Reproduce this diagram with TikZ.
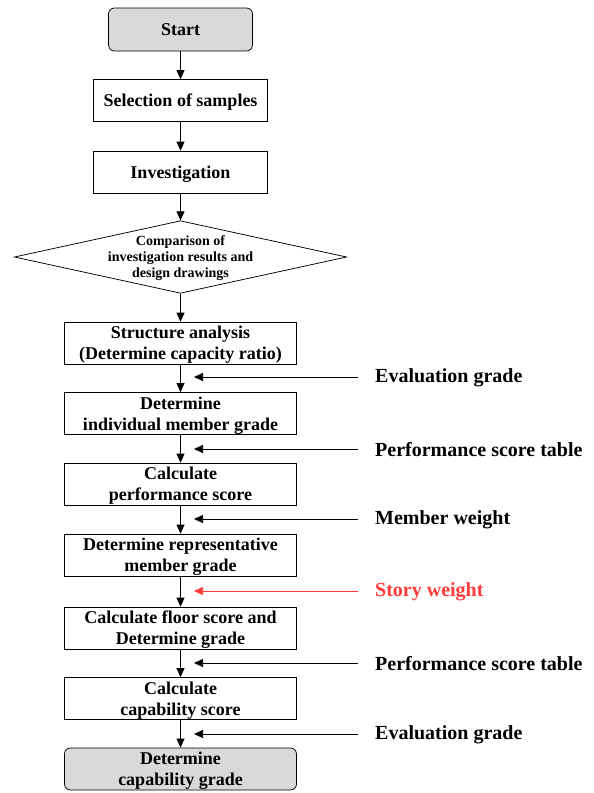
\documentclass[tikz,border=0pt]{standalone}
\usepackage{fontspec}
\setmainfont{Liberation Serif}
\usetikzlibrary{arrows.meta,shapes.geometric}
\definecolor{gray2}{HTML}{D9D9D9}
\definecolor{red2}{HTML}{FF3B3B}

\begin{document}
\begin{tikzpicture}[
      x=1pt, y=-1pt,
      >={Triangle[length=9pt,width=8pt]},
      box/.style={draw, line width=0.75pt, minimum width=232pt, minimum height=42pt,
        inner sep=0pt, text depth=0pt, align=center, font=\fontsize{18}{21}\selectfont\bfseries},
      term/.style={box, rounded corners=6pt, fill=gray2},
      dec/.style={draw, diamond, line width=0.75pt, aspect=4.58, inner xsep=0pt, inner ysep=-0.5pt,
        text depth=0pt, minimum width=330pt, minimum height=72pt, align=center,
        font=\fontsize{14}{16}\selectfont\bfseries},
      lbl/.style={anchor=west, inner sep=0pt, font=\fontsize{20}{22}\selectfont\bfseries},
      flow/.style={->, line width=0.75pt},
      feed/.style={->, line width=0.75pt, shorten <=17pt}
  ]
    \useasboundingbox (0,0) rectangle (594,793);
    % main column
    \node[term, minimum width=144pt, minimum height=43pt] (start) at (180.5,29.5) {Start};
    \node[box, minimum width=174pt] (sel) at (180.5,100.5) {Selection of samples};
    \node[box, minimum width=174pt] (inv) at (180.5,172) {Investigation};
    \node[dec] (cmp) at (180.5,257) {Comparison of\\investigation results and\\design drawings};
    \node[box] (sa) at (180.5,343) {Structure analysis\\(Determine capacity ratio)};
    \node[box] (ind) at (180.5,413.5) {Determine\\individual member grade};
    \node[box] (perf) at (180.5,484) {Calculate\\performance score};
    \node[box] (rep) at (180.5,555) {Determine representative\\member grade};
    \node[box] (flr) at (180.5,628) {Calculate floor score and\\Determine grade};
    \node[box] (cap) at (180.5,698.5) {Calculate\\capability score};
    \node[term] (grade) at (180.5,769) {Determine\\capability grade};
    \draw[flow] (start) -- (sel);
    \draw[flow] (sel) -- (inv);
    \draw[flow] (inv) -- (cmp);
    \draw[flow] (cmp) -- (sa);
    \draw[flow] (sa) -- (ind);
    \draw[flow] (ind) -- (perf);
    \draw[flow] (perf) -- (rep);
    \draw[flow] (rep) -- (flr);
    \draw[flow] (flr) -- (cap);
    \draw[flow] (cap) -- (grade);
    % inputs from the right
    \node[lbl] (in1) at (375,378) {Evaluation grade};
    \node[lbl] (in2) at (375,450) {Performance score table};
    \node[lbl] (in3) at (375,520) {Member weight};
    \node[lbl, text=red2] (in4) at (375,592) {Story weight};
    \node[lbl] (in5) at (375,664) {Performance score table};
    \node[lbl] (in6) at (375,735) {Evaluation grade};
    \coordinate (t1) at (194,377);
    \coordinate (t2) at (194,449);
    \coordinate (t3) at (194,519);
    \coordinate (t4) at (194,591);
    \coordinate (t5) at (194,663);
    \coordinate (t6) at (194,734);
    \draw[feed] (in1.west |- t1) -- (t1);
    \draw[feed] (in2.west |- t2) -- (t2);
    \draw[feed] (in3.west |- t3) -- (t3);
    \draw[feed, red2] (in4.west |- t4) -- (t4);
    \draw[feed] (in5.west |- t5) -- (t5);
    \draw[feed] (in6.west |- t6) -- (t6);
  \end{tikzpicture}
\end{document}
